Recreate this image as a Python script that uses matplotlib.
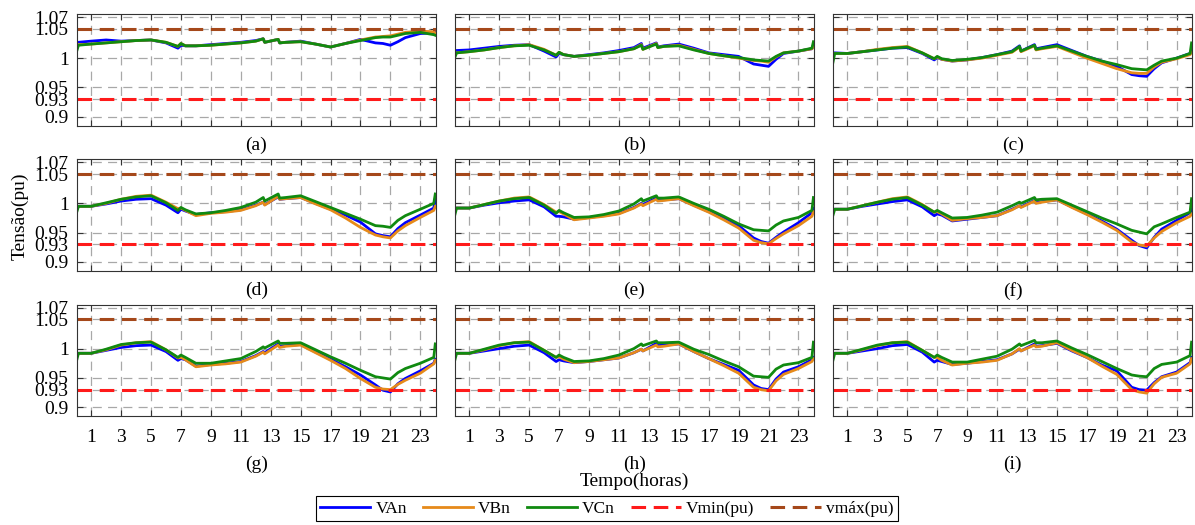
import numpy as np
import matplotlib.pyplot as plt

plt.rcParams['font.family'] = ['Liberation Serif', 'DejaVu Serif']
plt.rcParams['lines.scale_dashes'] = False

# tempo (horas)
t = [0, 0.15, 1, 2, 3, 4, 5, 6, 6.8, 7, 7.3, 8, 9, 10, 11, 12, 12.5, 12.6, 13.5, 13.6,
     14, 15, 16, 17, 18, 19, 20, 20.5, 21, 21.5, 22, 23, 23.9, 24]

# (a)
VAn_a = [1.027, 1.027, 1.029, 1.031, 1.029, 1.030, 1.031, 1.026, 1.017, 1.022, 1.021, 1.021, 1.023, 1.025, 1.027, 1.030, 1.033, 1.027, 1.032, 1.026,
         1.027, 1.029, 1.024, 1.019, 1.025, 1.032, 1.026, 1.025, 1.022, 1.028, 1.035, 1.042, 1.043, 1.044]
VBn_a = [1.022, 1.023, 1.024, 1.026, 1.028, 1.030, 1.031, 1.027, 1.020, 1.025, 1.021, 1.021, 1.022, 1.024, 1.026, 1.029, 1.033, 1.027, 1.032, 1.026,
         1.027, 1.028, 1.024, 1.019, 1.025, 1.031, 1.036, 1.037, 1.038, 1.041, 1.044, 1.046, 1.045, 1.043]
VCn_a = [1.009, 1.022, 1.024, 1.026, 1.028, 1.030, 1.031, 1.027, 1.020, 1.025, 1.021, 1.021, 1.022, 1.024, 1.026, 1.029, 1.033, 1.027, 1.032, 1.026,
         1.027, 1.028, 1.024, 1.019, 1.025, 1.030, 1.035, 1.036, 1.036, 1.039, 1.042, 1.044, 1.040, 1.039]
# (b)
VAn_b = [1.013, 1.013, 1.014, 1.017, 1.020, 1.022, 1.023, 1.012, 1.002, 1.008, 1.006, 1.003, 1.006, 1.009, 1.013, 1.018, 1.025, 1.017, 1.026, 1.019,
         1.021, 1.024, 1.017, 1.009, 1.006, 1.003, 0.990, 0.988, 0.986, 0.998, 1.008, 1.012, 1.016, 1.022]
VBn_b = [1.009, 1.009, 1.011, 1.014, 1.018, 1.021, 1.023, 1.015, 1.005, 1.010, 1.006, 1.003, 1.005, 1.008, 1.011, 1.016, 1.023, 1.015, 1.025, 1.018,
         1.020, 1.022, 1.015, 1.008, 1.004, 1.000, 0.996, 0.995, 0.993, 1.002, 1.009, 1.012, 1.016, 1.020]
VCn_b = [0.999, 1.009, 1.011, 1.014, 1.018, 1.021, 1.022, 1.014, 1.005, 1.010, 1.006, 1.003, 1.005, 1.008, 1.011, 1.016, 1.022, 1.015, 1.024, 1.018,
         1.020, 1.021, 1.014, 1.008, 1.004, 1.001, 0.997, 0.996, 0.995, 1.003, 1.009, 1.012, 1.017, 1.028]
# (c)
VAn_c = [1.009, 1.009, 1.008, 1.011, 1.014, 1.017, 1.018, 1.008, 0.997, 1.001, 0.998, 0.995, 0.997, 1.001, 1.006, 1.012, 1.021, 1.012, 1.023, 1.016,
         1.018, 1.023, 1.013, 1.003, 0.995, 0.986, 0.972, 0.970, 0.969, 0.982, 0.992, 1.000, 1.008, 1.013]
VBn_c = [1.008, 1.008, 1.008, 1.011, 1.015, 1.018, 1.020, 1.009, 0.999, 1.002, 0.998, 0.995, 0.997, 1.000, 1.005, 1.010, 1.019, 1.011, 1.021, 1.014,
         1.016, 1.020, 1.010, 1.000, 0.991, 0.982, 0.975, 0.974, 0.974, 0.985, 0.993, 0.999, 1.006, 1.010]
VCn_c = [0.989, 1.008, 1.008, 1.011, 1.014, 1.017, 1.019, 1.009, 0.999, 1.003, 0.999, 0.996, 0.998, 1.001, 1.006, 1.011, 1.020, 1.012, 1.022, 1.015,
         1.017, 1.021, 1.012, 1.003, 0.995, 0.989, 0.982, 0.981, 0.980, 0.988, 0.995, 1.000, 1.008, 1.026]
# (d)
VAn_d = [0.995, 0.995, 0.995, 0.999, 1.004, 1.007, 1.008, 0.997, 0.984, 0.990, 0.987, 0.981, 0.984, 0.986, 0.989, 0.997, 1.002, 0.998, 1.011, 1.007,
         1.008, 1.010, 1.000, 0.990, 0.980, 0.968, 0.948, 0.945, 0.943, 0.957, 0.967, 0.980, 0.992, 1.008]
VBn_d = [0.993, 0.995, 0.995, 1.000, 1.007, 1.012, 1.014, 1.002, 0.991, 0.992, 0.988, 0.979, 0.983, 0.985, 0.988, 0.996, 1.002, 0.997, 1.012, 1.007,
         1.008, 1.010, 0.999, 0.989, 0.975, 0.959, 0.946, 0.943, 0.941, 0.953, 0.962, 0.976, 0.988, 0.995]
VCn_d = [0.982, 0.995, 0.995, 1.001, 1.007, 1.011, 1.013, 1.001, 0.988, 0.993, 0.989, 0.982, 0.984, 0.988, 0.993, 1.002, 1.010, 1.004, 1.016, 1.009,
         1.010, 1.013, 1.003, 0.993, 0.983, 0.973, 0.962, 0.961, 0.959, 0.971, 0.979, 0.990, 1.000, 1.016]
# (e)
VAn_e = [0.992, 0.992, 0.992, 0.997, 1.001, 1.004, 1.006, 0.994, 0.978, 0.978, 0.977, 0.973, 0.976, 0.979, 0.983, 0.993, 1.000, 0.998, 1.009, 1.005,
         1.006, 1.008, 0.997, 0.986, 0.975, 0.962, 0.941, 0.935, 0.932, 0.942, 0.951, 0.967, 0.984, 0.992]
VBn_e = [0.990, 0.992, 0.992, 0.998, 1.004, 1.009, 1.011, 0.998, 0.985, 0.986, 0.982, 0.972, 0.975, 0.978, 0.982, 0.992, 0.999, 0.996, 1.007, 1.004,
         1.005, 1.008, 0.996, 0.985, 0.972, 0.958, 0.937, 0.933, 0.931, 0.940, 0.948, 0.962, 0.978, 0.986]
VCn_e = [0.977, 0.992, 0.992, 0.998, 1.004, 1.008, 1.010, 0.997, 0.983, 0.988, 0.984, 0.976, 0.977, 0.981, 0.987, 0.999, 1.008, 1.004, 1.013, 1.009,
         1.009, 1.011, 1.000, 0.990, 0.978, 0.965, 0.955, 0.954, 0.953, 0.963, 0.970, 0.976, 0.988, 1.010]
# (f)
VAn_f = [0.990, 0.990, 0.990, 0.995, 0.999, 1.003, 1.006, 0.994, 0.979, 0.982, 0.980, 0.970, 0.973, 0.976, 0.979, 0.990, 0.996, 0.994, 1.005, 1.001,
         1.003, 1.006, 0.994, 0.982, 0.970, 0.956, 0.937, 0.928, 0.924, 0.942, 0.956, 0.971, 0.984, 0.990]
VBn_f = [0.988, 0.990, 0.990, 0.996, 1.002, 1.008, 1.011, 0.998, 0.985, 0.986, 0.982, 0.971, 0.974, 0.976, 0.979, 0.989, 0.996, 0.993, 1.004, 1.000,
         1.002, 1.006, 0.993, 0.981, 0.968, 0.954, 0.934, 0.929, 0.927, 0.941, 0.952, 0.967, 0.978, 0.982]
VCn_f = [0.977, 0.990, 0.990, 0.996, 1.002, 1.007, 1.010, 0.997, 0.985, 0.988, 0.984, 0.975, 0.976, 0.980, 0.985, 0.996, 1.002, 1.000, 1.010, 1.006,
         1.007, 1.008, 0.997, 0.986, 0.975, 0.965, 0.954, 0.951, 0.948, 0.960, 0.965, 0.976, 0.985, 1.008]
# (g)
VAn_g = [0.992, 0.992, 0.992, 0.997, 1.002, 1.005, 1.006, 0.995, 0.980, 0.983, 0.981, 0.970, 0.973, 0.975, 0.978, 0.988, 0.995, 0.993, 1.008, 1.004,
         1.005, 1.007, 0.994, 0.982, 0.969, 0.955, 0.938, 0.929, 0.926, 0.940, 0.949, 0.962, 0.975, 0.982]
VBn_g = [0.990, 0.992, 0.992, 0.998, 1.006, 1.010, 1.012, 0.998, 0.984, 0.985, 0.981, 0.969, 0.972, 0.974, 0.977, 0.987, 0.994, 0.991, 1.006, 1.002,
         1.004, 1.006, 0.993, 0.980, 0.966, 0.949, 0.934, 0.931, 0.930, 0.939, 0.946, 0.958, 0.974, 0.980]
VCn_g = [0.977, 0.992, 0.992, 0.999, 1.007, 1.010, 1.011, 0.998, 0.985, 0.989, 0.985, 0.975, 0.975, 0.979, 0.983, 0.995, 1.003, 1.001, 1.013, 1.009,
         1.009, 1.010, 0.998, 0.986, 0.975, 0.963, 0.952, 0.950, 0.948, 0.959, 0.966, 0.975, 0.985, 1.008]
# (h)
VAn_h = [0.992, 0.992, 0.992, 0.996, 1.000, 1.004, 1.006, 0.993, 0.978, 0.981, 0.979, 0.976, 0.978, 0.981, 0.984, 0.993, 0.999, 0.996, 1.009, 1.005,
         1.006, 1.008, 0.995, 0.983, 0.973, 0.963, 0.938, 0.932, 0.930, 0.948, 0.960, 0.969, 0.981, 0.985]
VBn_h = [0.990, 0.992, 0.992, 0.998, 1.005, 1.010, 1.012, 0.997, 0.985, 0.986, 0.982, 0.976, 0.978, 0.981, 0.984, 0.993, 0.999, 0.996, 1.006, 1.003,
         1.004, 1.008, 0.995, 0.983, 0.971, 0.958, 0.934, 0.930, 0.928, 0.945, 0.956, 0.966, 0.978, 0.983]
VCn_h = [0.977, 0.992, 0.992, 0.999, 1.006, 1.010, 1.011, 0.997, 0.985, 0.989, 0.985, 0.978, 0.979, 0.983, 0.989, 1.000, 1.008, 1.005, 1.013, 1.010,
         1.010, 1.011, 0.999, 0.990, 0.979, 0.969, 0.953, 0.952, 0.951, 0.965, 0.972, 0.976, 0.985, 1.011]
# (i)
VAn_i = [0.992, 0.992, 0.992, 0.996, 1.000, 1.005, 1.007, 0.994, 0.977, 0.980, 0.978, 0.973, 0.975, 0.978, 0.981, 0.991, 0.999, 0.996, 1.008, 1.004,
         1.005, 1.009, 0.996, 0.985, 0.972, 0.962, 0.934, 0.930, 0.929, 0.942, 0.952, 0.960, 0.976, 0.985]
VBn_i = [0.990, 0.992, 0.992, 0.998, 1.005, 1.010, 1.012, 0.997, 0.985, 0.985, 0.980, 0.972, 0.975, 0.977, 0.980, 0.991, 1.000, 0.996, 1.006, 1.003,
         1.004, 1.010, 0.997, 0.985, 0.970, 0.956, 0.930, 0.926, 0.924, 0.940, 0.951, 0.958, 0.974, 0.983]
VCn_i = [0.977, 0.992, 0.992, 0.999, 1.006, 1.010, 1.011, 0.997, 0.985, 0.989, 0.985, 0.977, 0.977, 0.982, 0.987, 0.999, 1.008, 1.005, 1.014, 1.010,
         1.010, 1.013, 1.001, 0.990, 0.978, 0.966, 0.955, 0.953, 0.952, 0.966, 0.973, 0.977, 0.988, 1.011]

vmin = 0.93
vmax = 1.05
yticks = [0.9, 0.93, 0.95, 1.0, 1.05, 1.07]
yticklabels = ['0.9', '0.93', '0.95', '1', '1.05', '1.07']
xticks = list(range(1, 24, 2))

paineis = [('(a)', VAn_a, VBn_a, VCn_a), ('(b)', VAn_b, VBn_b, VCn_b), ('(c)', VAn_c, VBn_c, VCn_c),
           ('(d)', VAn_d, VBn_d, VCn_d), ('(e)', VAn_e, VBn_e, VCn_e), ('(f)', VAn_f, VBn_f, VCn_f),
           ('(g)', VAn_g, VBn_g, VCn_g), ('(h)', VAn_h, VBn_h, VCn_h), ('(i)', VAn_i, VBn_i, VCn_i)]

fs = 14
fig, axes = plt.subplots(3, 3, figsize=(11.95, 5.25), dpi=100)
fig.subplots_adjust(left=0.0644, right=0.9975, top=0.973, bottom=0.2076, wspace=0.054, hspace=0.304)

for k, (nome, va, vb, vc) in enumerate(paineis):
    ax = axes[k // 3, k % 3]
    ax.plot(t, va, color='#0000ff', lw=2.0, label='VAn')
    ax.plot(t, vb, color='#e68a1a', lw=2.0, label='VBn')
    ax.plot(t, vc, color='#108a10', lw=2.0, label='VCn')
    ax.axhline(vmin, color='#ff1a1a', lw=2.2, dashes=(10.5, 5.5), label='Vmin(pu)')
    ax.axhline(vmax, color='#a5481a', lw=2.2, dashes=(10.5, 5.5), label='vmáx(pu)')
    ax.set_xlim(0.05, 24.03)
    ax.set_ylim(0.885, 1.075)
    ax.set_xticks(xticks)
    ax.set_yticks(yticks)
    ax.set_yticklabels(yticklabels)
    ax.grid(True, color='#a8a8a8', lw=0.9, linestyle=(0, (6.5, 4.5)))
    ax.tick_params(direction='in', top=True, right=True, length=4, labelsize=fs,
                   color='#333333')
    ax.tick_params(axis='x', pad=9)
    ax.tick_params(axis='y', pad=6)
    for s in ax.spines.values():
        s.set_color('#333333')
    if k % 3 != 0:
        ax.tick_params(labelleft=False)
    if k // 3 != 2:
        ax.tick_params(labelbottom=False)
        ax.text(0.5, -0.18, nome, transform=ax.transAxes, ha='center', va='center', fontsize=fs)
    else:
        ax.text(0.5, -0.43, nome, transform=ax.transAxes, ha='center', va='center', fontsize=fs)

fig.text(0.5305, 0.0827, 'Tempo(horas)', ha='center', va='center', fontsize=fs)
fig.text(0.0167, 0.5886, 'Tensão(pu)', ha='center', va='center', rotation=90, fontsize=fs)

h, l = axes[0, 0].get_legend_handles_labels()
leg = fig.legend(h, l, loc='center', bbox_to_anchor=(0.5076, 0.031), ncol=5, frameon=True,
                 fancybox=False, edgecolor='black', fontsize=12.5, handlelength=2.9,
                 columnspacing=0.9, handletextpad=0.3, borderpad=0.25, framealpha=1)
leg.get_frame().set_linewidth(0.8)

fig.savefig('out.png', dpi=100)
